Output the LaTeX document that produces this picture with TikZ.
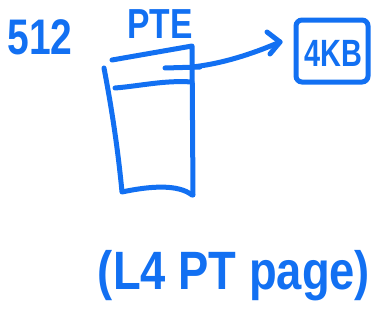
\documentclass[tikz,border=0pt]{standalone}
\usepackage{fontspec}
\setmainfont{Liberation Sans}
\begin{document}
\begin{tikzpicture}[x=1pt,y=-1pt,
  ink/.style={draw=penblue,line width=5pt,line cap=round,line join=round},
  label/.style={text=penblue,inner sep=0pt,anchor=center}]
\definecolor{penblue}{RGB}{18,112,242}
\useasboundingbox (0,0) rectangle (380,324);

% labels
\node[label,font=\bfseries\fontsize{50}{50}\selectfont,xscale=0.78] (n512) at (40,37) {512};
\node[label,font=\bfseries\fontsize{42}{42}\selectfont,xscale=0.8] (pte) at (160,24) {PTE};
\node[label,font=\bfseries\fontsize{54}{54}\selectfont,xscale=0.84] (caption) at (234,276) {(L4 PT page)};

% page-table page
\draw[ink] (104,68) .. controls (112,110) and (118,150) .. (122,192)
  .. controls (150,186) and (178,184) .. (192,195);
\draw[ink] (112,60) -- (192,46) -- (193,195);
\draw[ink] (115,88) .. controls (140,86) and (165,80) .. (192,82);
\draw[ink] (165,68) -- (200,67);

% page frame
\node[draw=penblue,line width=5pt,rounded corners=6pt,minimum width=72pt,minimum height=62pt] (frame) at (332,51) {};
\node[label,font=\bfseries\fontsize{38}{38}\selectfont,xscale=0.76] (kb) at (333,53) {4KB};

% pointer from the entry to the frame
\coordinate (src) at (192,67);
\draw[ink] (src) .. controls (220,64) and (250,55) .. (280,42);
\draw[ink] (267,32) -- (280,42) -- (270,54);
\end{tikzpicture}
\end{document}
